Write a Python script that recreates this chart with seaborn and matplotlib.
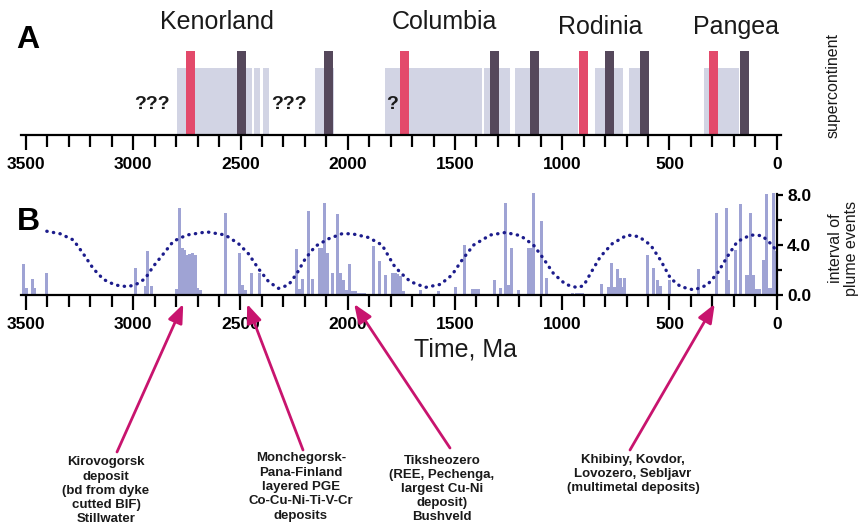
import matplotlib
matplotlib.use("Agg")
import matplotlib.pyplot as plt
from matplotlib.ticker import MultipleLocator, FixedLocator
from matplotlib import font_manager
import seaborn as sns
import pandas as pd

# ---------------- data ----------------
# Panel A: supercontinent intervals (Ma)
box_start = [2795, 2436, 2393, 2151, 1825, 1366, 1221, 845, 689, 339]
box_end = [2445, 2408, 2365, 2066, 1373, 1244, 925, 715, 619, 176]
red_ages = [2732, 1734, 903, 296]
dark_ages = [2494, 2089, 1314, 1131, 782, 618, 152]
continent_names = ["Kenorland", "Columbia", "Rodinia", "Pangea"]
unknown_marks = ["???", "???", "?"]

# Panel B: plume events
plume_age = [3512, 3500, 3470, 3460, 3404, 2991, 2945, 2932, 2915, 2800, 2786, 2772, 2760, 2748,
             2736, 2724, 2712, 2700, 2688, 2568, 2503, 2490, 2478, 2447, 2413, 2237, 2225, 2213,
             2182, 2164, 2132, 2120, 2108, 2096, 2073, 2049, 2035, 2022, 2005, 1993, 1980, 1965,
             1950, 1935, 1920, 1879, 1853, 1822, 1790, 1778, 1766, 1754, 1740, 1661, 1577, 1498,
             1456, 1420, 1405, 1390, 1316, 1290, 1265, 1250, 1237, 1206, 1158, 1146, 1133, 1098,
             1073, 950, 935, 920, 905, 818, 784, 770, 757, 744, 728, 716, 709, 603, 576, 557, 542,
             498, 365, 281, 235, 225, 191, 168, 141, 130, 121, 110, 95, 80, 60, 47, 35, 25, 16, 6]
plume_val = [2.5, 0.6, 1.3, 0.6, 1.75, 2.2, 0.7, 3.5, 0.7, 0.5, 7.0, 3.8, 3.6, 3.2,
             3.3, 3.4, 3.2, 0.6, 0.4, 6.6, 3.4, 0.8, 0.4, 1.75, 1.8, 3.7, 0.5, 1.3,
             6.7, 1.3, 3.8, 3.8, 7.4, 3.4, 1.75, 6.5, 1.75, 1.2, 0.4, 2.5, 0.3, 0.3,
             0.2, 0.15, 0.15, 3.9, 2.7, 1.6, 1.75, 1.75, 1.7, 1.5, 0.3, 0.4, 0.35, 0.65,
             4.0, 0.45, 0.5, 0.45, 1.2, 0.6, 7.35, 0.8, 3.8, 0.4, 3.8, 3.8, 8.2, 5.9,
             1.4, 0.15, 0.15, 0.15, 0.15, 0.9, 0.65, 2.6, 0.65, 2.1, 1.4, 0.65, 1.4, 3.2, 2.2, 1.2, 0.7,
             1.2, 2.1, 6.6, 7.0, 1.2, 3.6, 7.3, 1.6, 1.6, 6.6, 1.6, 0.5, 0.5, 2.8, 8.1, 0.6, 0.6, 8.2, 3.5]
assert len(plume_age) == len(plume_val)

curve_age = [3403, 3341, 3279, 3233, 3186, 3139, 3085, 3030, 2991, 2945, 2906, 2859, 2813, 2750,
             2657, 2571, 2509, 2463, 2416, 2369, 2323, 2276, 2237, 2198, 2151, 2089, 2027, 1980,
             1903, 1840, 1786, 1755, 1708, 1638, 1568, 1514, 1467, 1413, 1335, 1265, 1195, 1134,
             1087, 1040, 984, 930, 900, 868, 822, 767, 697, 643, 588, 542, 495, 448, 386, 324, 277,
             230, 184, 122, 68, 21, 0]
curve_val = [5.1, 4.9, 4.4, 3.3, 2.1, 1.25, 0.8, 0.67, 0.8, 1.3, 2.3, 3.3, 4.3, 4.8,
             5.05, 4.8, 4.1, 3.3, 2.1, 1.07, 0.53, 0.8, 1.73, 2.9, 3.9, 4.5, 4.9, 4.9,
             4.6, 4.0, 2.4, 1.8, 1.07, 0.61, 0.85, 1.6, 2.8, 4.0, 4.8, 5.0, 4.75, 4.0,
             2.9, 1.7, 0.85, 0.59, 0.75, 1.73, 3.07, 4.1, 4.8, 4.67, 4.0, 2.8, 1.33, 0.67, 0.4, 0.8, 1.73,
             3.07, 4.27, 4.8, 4.75, 4.0, 3.5]
assert len(curve_age) == len(curve_val)

tick_pos = [3500, 3000, 2500, 2000, 1500, 1000, 500, 0]
tick_labels = ["3500", "3000", "2500", "2000", "1500", "1000", "500", "0"]
ytick_pos = [0, 4, 8]
ytick_labels = ["0.0", "4.0", "8.0"]

deposit_ages = [2767, 2469, 1970, 289]
deposit_labels = [
    "Kirovogorsk\ndeposit\n(bd from dyke\ncutted BIF)\nStillwater",
    "Monchegorsk-\nPana-Finland\nlayered PGE\nCo-Cu-Ni-Ti-V-Cr\ndeposits",
    "Tiksheozero\n(REE, Pechenga,\nlargest Cu-Ni\ndeposit)\nBushveld",
    "Khibiny, Kovdor,\nLovozero, Sebljavr\n(multimetal deposits)",
]

# ---------------- style ----------------
sns.set_theme(style="ticks", rc={"text.color": "black", "axes.labelcolor": "black",
                                 "xtick.color": "black", "ytick.color": "black",
                                 "axes.edgecolor": "black"})
plt.rcParams["font.family"] = ["Liberation Sans", "DejaVu Sans"]
names = {f.name for f in font_manager.fontManager.ttflist}
narrow = "Liberation Sans Narrow" if "Liberation Sans Narrow" in names else "Liberation Sans"
dep_fs = 10.5 if narrow == "Liberation Sans Narrow" else 9.5

BOX = "#d2d4e4"
RED = "#e34a6b"
DARK = "#55485b"
BAR = "#9fa3d4"
CURVE = "#1c1c8c"
ARROW = "#c8146e"

W, H = 866, 527
fig = plt.figure(figsize=(W / 100, H / 100), dpi=100)


def fx(px):
    return px / W


def fy(py):
    return 1 - py / H


axA = fig.add_axes([fx(21.3), fy(135), (780.6 - 21.3) / W, 90 / H])
axB = fig.add_axes([fx(21.3), fy(295), (776.7 - 21.3) / W, 112.5 / H])
axA.set_xlim(3522, -18)
axA.set_ylim(0, 90)
axB.set_xlim(3522, 0)
axB.set_ylim(0, 9)

# ---- Panel A ----
centers = [(s + e) / 2 for s, e in zip(box_start, box_end)]
widths = [s - e for s, e in zip(box_start, box_end)]
axA.bar(centers, [67] * len(centers), width=widths, color=BOX, linewidth=0, zorder=1)
axA.bar(red_ages, [84] * len(red_ages), width=42, color=RED, linewidth=0, zorder=2)
axA.bar(dark_ages, [84] * len(dark_ages), width=42, color=DARK, linewidth=0, zorder=2)

name_pos = [(2609, 113), (1549, 113), (821, 108), (191, 108)]
for nm, (x, y) in zip(continent_names, name_pos):
    axA.text(x, y, nm, ha="center", va="center", fontsize=18, color="#1a1a1a", clip_on=False)
q_pos = [(2912, 30), (2273, 30), (1792, 30)]
for q, (x, y) in zip(unknown_marks, q_pos):
    axA.text(x, y, q, ha="center", va="center", fontsize=14, fontweight="bold", color="#1a1a1a")

# ---- Panel B ----
axB.bar(plume_age, plume_val, width=14, color=BAR, linewidth=0, zorder=2)
df = pd.DataFrame({"age": curve_age, "val": curve_val})
sns.lineplot(data=df, x="age", y="val", ax=axB, color=CURVE, linewidth=2.4,
             linestyle=(0, (0.1, 1.9)), dash_capstyle="round", zorder=3, clip_on=False,
             sort=False)
axB.set_xlabel("")
axB.set_ylabel("")

# ---- axes styling ----
for ax in (axA, axB):
    for s in ("top", "left", "right"):
        ax.spines[s].set_visible(False)
    ax.spines["bottom"].set_linewidth(1.6)
    ax.set_xticks(tick_pos)
    ax.set_xticklabels(tick_labels, fontweight="bold", fontsize=12.5)
    ax.xaxis.set_minor_locator(MultipleLocator(100))
    ax.tick_params(axis="x", which="major", length=11, width=1.6, direction="out", pad=5,
                   bottom=True)
    ax.tick_params(axis="x", which="minor", length=8.6, width=1.6, direction="out", bottom=True)
    ax.set_facecolor("none")
    ax.grid(False)

axA.set_yticks([])
axB.spines["right"].set_visible(True)
axB.spines["right"].set_linewidth(1.6)
axB.spines["right"].set_bounds(0, 8.1)
axB.yaxis.tick_right()
axB.set_yticks(ytick_pos)
axB.set_yticklabels(ytick_labels, fontweight="bold", fontsize=12.5)
axB.yaxis.set_minor_locator(FixedLocator([2, 6]))
axB.tick_params(axis="y", which="major", length=4.5, width=1.6, direction="out", pad=3,
                right=True, left=False)
axB.tick_params(axis="y", which="minor", length=3.8, width=1.6, direction="out",
                right=True, left=False)

# ---- figure texts ----
fig.text(fx(28), fy(40), "A", fontsize=23, fontweight="bold", ha="center", va="center")
fig.text(fx(28), fy(222), "B", fontsize=23, fontweight="bold", ha="center", va="center")
fig.text(fx(833), fy(85), "supercontinent", rotation=90, fontsize=11.5,
         ha="center", va="center", color="#1a1a1a")
fig.text(fx(843.5), fy(248), "interval of\nplume events", rotation=90, fontsize=11.5,
         ha="center", va="center", color="#1a1a1a", linespacing=1.15)
fig.text(fx(466), fy(350), "Time, Ma", fontsize=18, ha="center", va="center", color="#1a1a1a")

# ---- arrows and deposit labels ----
tails = [(117, 452), (303, 450), (450, 448), (630, 450)]
label_pos = [(106, 491), (301, 487), (442, 489), (633, 474)]
for age, (tx, ty), lab, (lx, ly) in zip(deposit_ages, tails, deposit_labels, label_pos):
    axB.annotate("", xy=(age, -0.72), xycoords="data",
                 xytext=(fx(tx), fy(ty)), textcoords="figure fraction",
                 arrowprops=dict(arrowstyle="-|>,head_length=0.75,head_width=0.3",
                                 color=ARROW, lw=2.0, mutation_scale=15,
                                 shrinkA=0, shrinkB=0),
                 annotation_clip=False, zorder=5)
    fig.text(fx(lx), fy(ly), lab, ha="center", va="center", fontsize=dep_fs,
             fontweight="bold", family=[narrow, "DejaVu Sans"], linespacing=1.25,
             color="#1a1a1a")

fig.savefig("out.png", dpi=100)
